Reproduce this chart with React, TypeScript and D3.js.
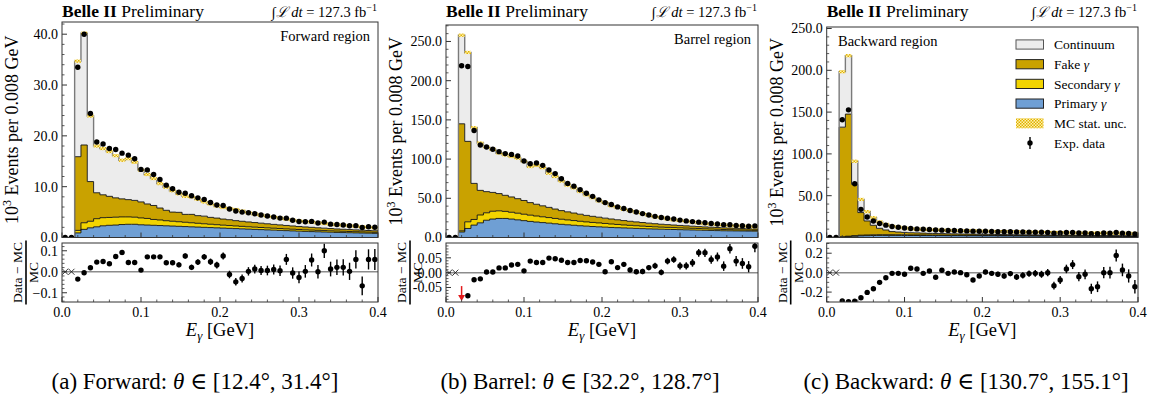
import React from "react";
import * as d3 from "d3";

// ---------- binning ----------
const BIN_WIDTH = 0.008;
const N_BINS = 50;
const X_MAX = 0.4;
const X_MAJOR = [0, 0.1, 0.2, 0.3, 0.4];
const X_TICK_LABELS = ["0.0", "0.1", "0.2", "0.3", "0.4"];

// ---------- Forward region (10^3 events / bin) ----------
const fwdPrimary = [0, 0, 0.9, 1.6, 1.9, 2.1, 2.3, 2.4, 2.45, 2.55, 2.6, 2.6, 2.5, 2.45, 2.4, 2.35, 2.3, 2.25, 2.2, 2.15, 2.1, 2.05, 2.0, 1.95, 1.9, 1.85, 1.8, 1.75, 1.7, 1.65, 1.6, 1.55, 1.5, 1.45, 1.4, 1.35, 1.3, 1.25, 1.2, 1.16, 1.12, 1.08, 1.04, 1.0, 0.97, 0.94, 0.91, 0.88, 0.85, 0.82];
const fwdSecondary = [0, 0, 0.5, 1.3, 1.3, 1.6, 1.6, 1.55, 1.55, 1.5, 1.45, 1.4, 1.35, 1.3, 1.15, 1.1, 1.0, 0.95, 0.9, 0.85, 0.8, 0.75, 0.7, 0.66, 0.62, 0.58, 0.55, 0.52, 0.49, 0.46, 0.44, 0.42, 0.4, 0.38, 0.36, 0.34, 0.33, 0.32, 0.31, 0.3, 0.29, 0.28, 0.27, 0.26, 0.25, 0.24, 0.23, 0.22, 0.21, 0.2];
const fwdFake = [0, 0, 14.5, 15.3, 7.8, 5.1, 4.5, 4.15, 3.8, 3.55, 3.4, 3.3, 3.15, 2.85, 2.75, 2.35, 2.05, 1.8, 1.85, 1.55, 1.65, 1.5, 1.5, 1.35, 1.3, 1.2, 1.15, 1.05, 1.0, 0.95, 0.9, 0.85, 0.8, 0.75, 0.72, 0.68, 0.64, 0.6, 0.57, 0.54, 0.5, 0.48, 0.45, 0.42, 0.4, 0.38, 0.36, 0.34, 0.32, 0.3];
const fwdContinuum = [0, 0, 18.8, 22.0, 12.9, 9.2, 9.1, 8.8, 8.3, 7.6, 8.05, 7.5, 6.3, 5.8, 5.3, 4.8, 4.55, 4.2, 3.65, 3.55, 3.45, 3.2, 2.8, 2.64, 2.38, 2.27, 2.2, 2.18, 2.01, 1.79, 1.66, 1.58, 1.5, 1.42, 1.32, 1.23, 1.13, 1.08, 1.02, 1.0, 0.94, 0.91, 0.84, 0.82, 0.78, 0.74, 0.7, 0.66, 0.62, 0.58];
const fwdData = [0, 0, 33.5, 40.0, 24.4, 18.8, 18.4, 17.5, 17.3, 16.6, 16.2, 15.5, 13.4, 13.3, 12.4, 11.4, 10.3, 9.6, 8.9, 8.7, 8.2, 7.8, 7.5, 6.9, 6.4, 6.3, 5.6, 5.2, 5.0, 4.86, 4.66, 4.43, 4.23, 4.04, 3.82, 3.81, 3.38, 3.16, 3.11, 3.17, 2.85, 3.03, 2.63, 2.55, 2.45, 2.3, 2.33, 1.96, 2.12, 2.01];
const fwdRatio = [null, null, -0.035, -0.005, 0.019, 0.046, 0.049, 0.038, 0.073, 0.092, 0.044, 0.044, 0.008, 0.071, 0.071, 0.071, 0.043, 0.043, 0.033, 0.075, 0.021, 0.046, 0.071, 0.048, 0.032, 0.075, -0.013, -0.048, -0.032, 0.002, 0.013, 0.006, 0.006, 0.011, 0.005, 0.059, -0.006, -0.027, 0.002, 0.056, 0.0, 0.1, 0.013, 0.021, 0.021, 0.002, 0.059, -0.067, 0.059, 0.059];
const fwdRatioErr = [0, 0, 0.004, 0.004, 0.005, 0.005, 0.006, 0.006, 0.006, 0.007, 0.007, 0.008, 0.008, 0.009, 0.009, 0.01, 0.01, 0.011, 0.012, 0.012, 0.013, 0.014, 0.014, 0.015, 0.016, 0.017, 0.018, 0.018, 0.019, 0.02, 0.021, 0.022, 0.023, 0.024, 0.025, 0.026, 0.027, 0.028, 0.03, 0.031, 0.032, 0.034, 0.035, 0.037, 0.039, 0.041, 0.043, 0.045, 0.048, 0.05];

// ---------- Barrel region ----------
const brlPrimary = [0, 0, 7, 11.5, 15.8, 18.7, 22, 23.5, 24.3, 24.3, 23.5, 22.5, 21.5, 20.5, 19.7, 19, 18.3, 17.5, 16.8, 16.2, 15.6, 15.0, 14.5, 14.0, 13.6, 13.2, 12.8, 12.5, 12.2, 11.9, 11.6, 11.3, 11.0, 10.8, 10.6, 10.4, 10.2, 10.0, 9.8, 9.6, 9.4, 9.2, 9.0, 8.8, 8.6, 8.5, 8.4, 8.3, 8.2, 8.1];
const brlSecondary = [0, 0, 1.5, 8.5, 7.2, 10, 9.5, 10, 9.7, 9.0, 8.7, 8.5, 8.2, 8.0, 7.7, 7.4, 7.1, 6.8, 6.5, 6.2, 6.0, 5.7, 5.4, 5.2, 5.0, 4.7, 4.4, 4.1, 3.8, 3.6, 3.4, 3.2, 3.0, 2.8, 2.6, 2.5, 2.4, 2.3, 2.2, 2.1, 2.0, 1.9, 1.8, 1.7, 1.6, 1.5, 1.4, 1.3, 1.2, 1.1];
const brlFake = [0, 0, 136.5, 102.6, 46, 31.4, 27, 24, 22, 20.5, 19.5, 18.5, 17.5, 16, 15, 14, 13, 12, 11, 10.3, 9.6, 9.0, 8.3, 7.8, 7.3, 6.8, 6.4, 6.0, 5.6, 5.2, 4.9, 4.6, 4.3, 4.0, 3.7, 3.5, 3.3, 3.1, 2.9, 2.7, 2.5, 2.4, 2.3, 2.2, 2.1, 2.0, 1.9, 1.8, 1.7, 1.6];
const brlContinuum = [0, 0, 113, 113.4, 71, 60.4, 56.8, 54.8, 51.8, 51.5, 51.6, 51.7, 49.7, 46, 49.5, 48.6, 43.6, 41.5, 37.7, 34, 32.1, 28.9, 26.1, 23.7, 20.8, 19.7, 16.9, 15.7, 14.4, 13.5, 12.5, 11.3, 9.9, 8.8, 8.6, 7.2, 6.6, 6.3, 5.8, 5.2, 4.5, 4.1, 4.0, 3.6, 3.7, 3.1, 3.1, 3.1, 3.0, 2.8];
const brlData = [0, 0, 219, 218, 136.5, 118, 115.5, 112.5, 109.5, 107, 106, 104, 97.5, 94, 95, 92, 86, 81.5, 75, 69, 65.5, 61, 56.5, 52.5, 48, 44.5, 42, 39, 37, 34.5, 32.5, 30.5, 28.7, 27, 25.5, 24.5, 23.5, 22.2, 21.2, 20.3, 19.6, 18.8, 17.8, 17.2, 16.4, 16.3, 15.4, 14.9, 14.4, 14.8];
const brlRatio = [null, null, -0.15, -0.078, -0.024, -0.021, 0.002, 0.002, 0.016, 0.016, 0.026, 0.028, 0.006, 0.039, 0.034, 0.034, 0.049, 0.047, 0.042, 0.034, 0.034, 0.041, 0.04, 0.036, 0.028, 0.003, 0.037, 0.017, 0.028, 0.009, 0.003, 0.004, 0.017, 0.023, 0.001, 0.039, 0.044, 0.023, 0.023, 0.033, 0.067, 0.067, 0.044, 0.053, 0.022, 0.081, 0.039, 0.031, 0.02, 0.089];
const brlRatioErr = [0, 0, 0.002, 0.002, 0.002, 0.002, 0.002, 0.002, 0.003, 0.003, 0.003, 0.003, 0.003, 0.003, 0.004, 0.004, 0.004, 0.004, 0.005, 0.005, 0.005, 0.005, 0.006, 0.006, 0.006, 0.007, 0.007, 0.007, 0.008, 0.008, 0.008, 0.009, 0.009, 0.01, 0.01, 0.011, 0.011, 0.012, 0.012, 0.013, 0.013, 0.014, 0.014, 0.015, 0.016, 0.016, 0.017, 0.018, 0.019, 0.02];

// ---------- Backward region ----------
const bwdPrimary = [0, 0, 0.5, 1.0, 1.5, 2.0, 2.2, 2.4, 2.5, 2.5, 2.5, 2.5, 2.45, 2.4, 2.4, 2.35, 2.3, 2.3, 2.25, 2.2, 2.2, 2.15, 2.1, 2.1, 2.05, 2.0, 2.0, 1.95, 1.9, 1.9, 1.85, 1.8, 1.8, 1.75, 1.7, 1.7, 1.65, 1.6, 1.6, 1.55, 1.5, 1.5, 1.45, 1.4, 1.4, 1.35, 1.3, 1.3, 1.25, 1.2];
const bwdSecondary = [0, 0, 0.3, 0.6, 0.7, 0.8, 0.8, 0.8, 0.8, 0.8, 0.8, 0.75, 0.75, 0.7, 0.7, 0.7, 0.65, 0.65, 0.6, 0.6, 0.6, 0.55, 0.55, 0.55, 0.5, 0.5, 0.5, 0.45, 0.45, 0.45, 0.4, 0.4, 0.4, 0.4, 0.35, 0.35, 0.35, 0.35, 0.3, 0.3, 0.3, 0.3, 0.3, 0.25, 0.25, 0.25, 0.25, 0.25, 0.2, 0.2];
const bwdFake = [0, 0, 131.2, 146, 61.3, 27, 16.8, 11.4, 7.7, 5.7, 3.8, 3.3, 2.9, 2.6, 2.4, 2.2, 2.0, 1.9, 1.8, 1.7, 1.6, 1.5, 1.45, 1.4, 1.35, 1.3, 1.25, 1.2, 1.15, 1.1, 1.05, 1.0, 0.97, 0.94, 0.91, 0.88, 0.85, 0.82, 0.8, 0.78, 0.76, 0.74, 0.72, 0.7, 0.68, 0.66, 0.64, 0.62, 0.6, 0.58];
const bwdContinuum = [0, 0, 66.3, 69.9, 27.7, 15.7, 11.1, 9.1, 7.7, 6.6, 6.2, 5.75, 5.4, 4.6, 4.4, 4.65, 4.35, 4.65, 3.95, 4.1, 3.8, 3.9, 4.0, 4.15, 3.9, 3.55, 3.5, 3.5, 3.65, 3.45, 3.6, 3.5, 3.28, 3.26, 3.34, 3.17, 3.15, 3.18, 3.1, 3.02, 2.94, 2.91, 2.93, 3.05, 2.97, 2.94, 2.91, 2.83, 2.85, 2.82];
const bwdData = [0, 0, 140.8, 152.7, 64.3, 33.7, 24.6, 19.8, 16.8, 14.8, 13.2, 12.2, 11.3, 10.8, 10.3, 9.8, 9.5, 9.0, 8.8, 8.5, 8.3, 8.1, 7.9, 7.6, 7.5, 7.4, 7.2, 7.0, 6.9, 6.8, 6.6, 6.5, 6.4, 6.3, 6.2, 6.1, 5.2, 5.5, 6.0, 6.1, 5.3, 5.35, 4.5, 4.6, 5.3, 5.2, 6.0, 5.15, 4.75, 4.1];
const bwdRatio = [null, null, -0.29, -0.298, -0.295, -0.259, -0.203, -0.166, -0.1, -0.052, -0.007, -0.007, -0.017, 0.045, 0.038, -0.007, 0.017, -0.048, 0.024, -0.007, 0.007, 0.0, -0.021, -0.076, -0.034, 0.007, -0.007, -0.017, -0.034, -0.01, -0.045, -0.028, -0.01, -0.007, -0.017, 0.0, -0.134, -0.076, 0.038, 0.083, -0.041, -0.017, -0.166, -0.145, 0.0, 0.0, 0.176, 0.028, -0.034, -0.145];
const bwdRatioErr = [0, 0, 0.003, 0.003, 0.004, 0.005, 0.006, 0.006, 0.007, 0.008, 0.008, 0.009, 0.01, 0.011, 0.012, 0.013, 0.014, 0.015, 0.016, 0.017, 0.018, 0.019, 0.02, 0.021, 0.022, 0.023, 0.024, 0.026, 0.027, 0.028, 0.03, 0.031, 0.033, 0.034, 0.036, 0.038, 0.04, 0.042, 0.044, 0.046, 0.048, 0.05, 0.052, 0.055, 0.058, 0.06, 0.062, 0.065, 0.068, 0.07];

// ---------- legend ----------
const LEGEND_LABELS = ["Continuum", "Fake γ", "Secondary γ", "Primary γ", "MC stat. unc.", "Exp. data"];

const KEYS = ["primary", "secondary", "fake", "continuum"];
const COLORS: Record<string, string> = {
  continuum: "#ececec",
  fake: "#c9a200",
  secondary: "#f2d400",
  primary: "#6f9fd4",
};

const FONT = "'Liberation Serif', 'Times New Roman', 'DejaVu Serif', serif";
const MAIN_BOTTOM = 237.5;
const R_TOP = 243;
const R_BOTTOM = 302;
const EDGES = d3.range(N_BINS + 1).map((i) => i * BIN_WIDTH);
const CENTERS = d3.range(N_BINS).map((i) => (i + 0.5) * BIN_WIDTH);

const PANELS = [
  {
    id: "fwd", left: 62, right: 378, top: 22, yMax: 42.4, yMajor: 10, yMinor: 2,
    rDomain: [-0.144, 0.137], rMajor: [-0.1, 0, 0.1], rLabels: ["−0.1", "0.0", "0.1"], rMinor: 0.02,
    region: "Forward region", regionX: 370, regionY: 41, regionAnchor: "end",
    capPrefix: "(a) Forward: ", capRange: " ∈ [12.4°, 31.4°]", capX: 195,
    primary: fwdPrimary, secondary: fwdSecondary, fake: fwdFake, continuum: fwdContinuum,
    data: fwdData, ratio: fwdRatio, ratioErr: fwdRatioErr, legend: false,
  },
  {
    id: "brl", left: 446, right: 758, top: 25, yMax: 271, yMajor: 50, yMinor: 10,
    rDomain: [-0.099, 0.1], rMajor: [-0.05, 0, 0.05], rLabels: ["-0.05", "0.00", "0.05"], rMinor: 0.01,
    region: "Barrel region", regionX: 751, regionY: 44, regionAnchor: "end",
    capPrefix: "(b) Barrel: ", capRange: " ∈ [32.2°, 128.7°]", capX: 580,
    primary: brlPrimary, secondary: brlSecondary, fake: brlFake, continuum: brlContinuum,
    data: brlData, ratio: brlRatio, ratioErr: brlRatioErr, legend: false,
  },
  {
    id: "bwd", left: 826.7, right: 1138, top: 27, yMax: 251.8, yMajor: 50, yMinor: 10,
    rDomain: [-0.302, 0.305], rMajor: [-0.2, 0, 0.2], rLabels: ["-0.2", "0.0", "0.2"], rMinor: 0.05,
    region: "Backward region", regionX: 838, regionY: 46, regionAnchor: "start",
    capPrefix: "(c) Backward: ", capRange: " ∈ [130.7°, 155.1°]", capX: 966,
    primary: bwdPrimary, secondary: bwdSecondary, fake: bwdFake, continuum: bwdContinuum,
    data: bwdData, ratio: bwdRatio, ratioErr: bwdRatioErr, legend: true,
  },
];

function Panel({ p }: { p: any }) {
  const x = d3.scaleLinear().domain([0, X_MAX]).range([p.left, p.right]);
  const y = d3.scaleLinear().domain([0, p.yMax]).range([MAIN_BOTTOM, p.top]);
  const yr = d3.scaleLinear().domain(p.rDomain).range([R_BOTTOM, R_TOP]);

  const rows = d3.range(N_BINS).map((i) => ({
    primary: p.primary[i], secondary: p.secondary[i], fake: p.fake[i], continuum: p.continuum[i],
  }));
  const stacked = d3.stack<any>().keys(KEYS)(rows);
  const stepPts = (s: any) =>
    s.flatMap((d: any, i: number) => [
      { x: EDGES[i], lo: d[0], hi: d[1] },
      { x: EDGES[i + 1], lo: d[0], hi: d[1] },
    ]);
  const area = d3.area<any>().x((d) => x(d.x)).y0((d) => y(d.lo)).y1((d) => y(d.hi));
  const line = d3.line<any>().x((d) => x(d.x)).y((d) => y(d.hi));
  const total = stacked[stacked.length - 1].map((d: any) => d[1]);

  const yMajorTicks = d3.range(0, p.yMax + 1e-9, p.yMajor);
  const yMinorTicks = d3.range(0, p.yMax, p.yMinor).filter((v) => Math.abs(v / p.yMajor - Math.round(v / p.yMajor)) > 1e-6);
  const xMinorTicks = d3.range(0, X_MAX + 1e-9, 0.02).filter((v) => Math.abs(v * 10 - Math.round(v * 10)) > 1e-6);
  const rMinorTicks = d3.range(Math.ceil(p.rDomain[0] / p.rMinor) * p.rMinor, p.rDomain[1], p.rMinor)
    .filter((v) => !p.rMajor.some((m: number) => Math.abs(m - v) < 1e-6));

  const cx = (p.left + p.right) / 2;
  const mainCy = (p.top + MAIN_BOTTOM) / 2;
  const rCy = (R_TOP + R_BOTTOM) / 2;
  const tc = "#333";

  return (
    <g fontFamily={FONT}>
      <defs>
        <clipPath id={`clipM-${p.id}`}>
          <rect x={p.left} y={p.top} width={p.right - p.left} height={MAIN_BOTTOM - p.top} />
        </clipPath>
        <clipPath id={`clipR-${p.id}`}>
          <rect x={p.left} y={R_TOP} width={p.right - p.left} height={R_BOTTOM - R_TOP} />
        </clipPath>
      </defs>

      {/* header */}
      <text x={p.left} y={17} fontSize={17.5}>
        <tspan fontWeight="bold">Belle II</tspan> Preliminary
      </text>
      <text x={p.right - 1} y={17} fontSize={14.5} textAnchor="end">
        <tspan fontStyle="italic">∫ℒ dt</tspan> = 127.3 fb<tspan dy={-6} fontSize={10}>−1</tspan>
      </text>

      {/* main panel */}
      <g clipPath={`url(#clipM-${p.id})`}>
        {stacked.map((s: any) => (
          <path key={s.key} d={area(stepPts(s)) || ""} fill={COLORS[s.key]} stroke="none" />
        ))}
        {stacked.map((s: any) => (
          <path key={s.key + "l"} d={line(stepPts(s)) || ""} fill="none"
            stroke={s.key === "continuum" ? "#7a7a7a" : "#111"} strokeWidth={s.key === "continuum" ? 1.4 : 0.9} />
        ))}
        {total.map((t: number, i: number) =>
          t > 0 ? (
            <rect key={"u" + i} x={x(EDGES[i])} y={y(t) - 1.6} width={x(EDGES[i + 1]) - x(EDGES[i])} height={3.2} fill="url(#uncPattern)" />
          ) : null
        )}
        {p.data.map((v: number, i: number) => (
          <circle key={"d" + i} cx={x(CENTERS[i])} cy={y(v)} r={2.7} fill="#000" />
        ))}
      </g>
      <rect x={p.left} y={p.top} width={p.right - p.left} height={MAIN_BOTTOM - p.top} fill="none" stroke={tc} strokeWidth={1} />
      {yMajorTicks.map((v) => (
        <g key={"ym" + v}>
          <line x1={p.left} x2={p.left + 5} y1={y(v)} y2={y(v)} stroke={tc} />
          <text x={p.left - 4} y={y(v)} dy="0.35em" textAnchor="end" fontSize={14}>{d3.format(".1f")(v)}</text>
        </g>
      ))}
      {yMinorTicks.map((v) => (
        <line key={"yn" + v} x1={p.left} x2={p.left + 2.5} y1={y(v)} y2={y(v)} stroke={tc} strokeWidth={0.8} />
      ))}
      {X_MAJOR.map((v) => (
        <line key={"xm" + v} x1={x(v)} x2={x(v)} y1={MAIN_BOTTOM} y2={MAIN_BOTTOM - 5} stroke={tc} />
      ))}
      {xMinorTicks.map((v) => (
        <line key={"xn" + v} x1={x(v)} x2={x(v)} y1={MAIN_BOTTOM} y2={MAIN_BOTTOM - 2.5} stroke={tc} strokeWidth={0.8} />
      ))}
      <text transform={`translate(${p.left - 44},${mainCy}) rotate(-90)`} textAnchor="middle" fontSize={18}>
        10<tspan dy={-7} fontSize={12}>3</tspan><tspan dy={7}> Events per 0.008 GeV</tspan>
      </text>
      <text x={p.regionX} y={p.regionY} textAnchor={p.regionAnchor} fontSize={14.5}>{p.region}</text>

      {/* ratio panel */}
      <g clipPath={`url(#clipR-${p.id})`}>
        <line x1={p.left} x2={p.right} y1={yr(0)} y2={yr(0)} stroke="#8c8c8c" strokeWidth={1.5} />
        {p.ratio.map((r: number | null, i: number) => {
          const px = x(CENTERS[i]);
          if (r === null) {
            return (
              <g key={"r" + i} stroke="#222" strokeWidth={0.9}>
                <line x1={px - 3} x2={px + 3} y1={yr(0) - 3} y2={yr(0) + 3} />
                <line x1={px - 3} x2={px + 3} y1={yr(0) + 3} y2={yr(0) - 3} />
              </g>
            );
          }
          if (r < p.rDomain[0]) {
            const y1 = yr(p.rDomain[0] + (p.rDomain[1] - p.rDomain[0]) * 0.27);
            const y2 = yr(p.rDomain[0]) - 1;
            return (
              <g key={"r" + i}>
                <line x1={px} x2={px} y1={y1} y2={y2 - 4} stroke="#e31a1c" strokeWidth={1.5} />
                <path d={`M${px - 3.5},${y2 - 6} L${px + 3.5},${y2 - 6} L${px},${y2} Z`} fill="#e31a1c" />
              </g>
            );
          }
          return (
            <g key={"r" + i}>
              <line x1={px} x2={px} y1={yr(r - p.ratioErr[i])} y2={yr(r + p.ratioErr[i])} stroke="#000" strokeWidth={1.4} />
              <circle cx={px} cy={yr(r)} r={2.7} fill="#000" />
            </g>
          );
        })}
      </g>
      <rect x={p.left} y={R_TOP} width={p.right - p.left} height={R_BOTTOM - R_TOP} fill="none" stroke={tc} strokeWidth={1} />
      {p.rMajor.map((v: number, j: number) => (
        <g key={"rm" + v}>
          <line x1={p.left} x2={p.left + 5} y1={yr(v)} y2={yr(v)} stroke={tc} />
          <text x={p.left - 4} y={yr(v)} dy="0.35em" textAnchor="end" fontSize={14}>{p.rLabels[j]}</text>
        </g>
      ))}
      {rMinorTicks.map((v: number) => (
        <line key={"rn" + v} x1={p.left} x2={p.left + 2.5} y1={yr(v)} y2={yr(v)} stroke={tc} strokeWidth={0.8} />
      ))}
      {X_MAJOR.map((v, j) => (
        <g key={"rx" + v}>
          <line x1={x(v)} x2={x(v)} y1={R_BOTTOM} y2={R_BOTTOM - 5} stroke={tc} />
          <text x={x(v)} y={317} textAnchor="middle" fontSize={14}>{X_TICK_LABELS[j]}</text>
        </g>
      ))}
      {xMinorTicks.map((v) => (
        <line key={"rxn" + v} x1={x(v)} x2={x(v)} y1={R_BOTTOM} y2={R_BOTTOM - 2.5} stroke={tc} strokeWidth={0.8} />
      ))}
      {/* ratio y label: (Data - MC)/MC */}
      <text transform={`translate(${p.left - 40},${rCy}) rotate(-90)`} textAnchor="middle" fontSize={13.5}>Data − MC</text>
      <line x1={p.left - 36} x2={p.left - 36} y1={rCy - 32} y2={rCy + 32} stroke="#000" strokeWidth={1.6} />
      <text transform={`translate(${p.left - 24},${rCy}) rotate(-90)`} textAnchor="middle" fontSize={13.5}>MC</text>

      {/* x label */}
      <text x={cx} y={336} textAnchor="middle" fontSize={18.5}>
        <tspan fontStyle="italic">E</tspan><tspan fontStyle="italic" fontSize={13} dy={4}>γ</tspan><tspan dy={-4}> [GeV]</tspan>
      </text>

      {/* caption */}
      <text x={p.capX} y={389} textAnchor="middle" fontSize={23}>
        {p.capPrefix}<tspan fontStyle="italic">θ</tspan>{p.capRange}
      </text>

      {p.legend ? <Legend /> : null}
    </g>
  );
}

function Legend() {
  const sx = 1016, tx = 1054, y0 = 44.5, dy = 19.7;
  const fills = [COLORS.continuum, COLORS.fake, COLORS.secondary, COLORS.primary];
  return (
    <g fontFamily={FONT} fontSize={13.5}>
      {LEGEND_LABELS.map((lab, i) => {
        const cy = y0 + i * dy;
        let sw: any = null;
        if (i < 4) {
          sw = <rect x={sx} y={cy - 4.6} width={27.5} height={9.2} fill={fills[i]} stroke={i === 0 ? "#555" : "#222"} strokeWidth={1} />;
        } else if (i === 4) {
          sw = <rect x={sx} y={cy - 5} width={27.5} height={10} fill="url(#uncPattern)" />;
        } else {
          sw = (
            <g>
              <line x1={sx + 14} x2={sx + 14} y1={cy - 6} y2={cy + 6} stroke="#000" strokeWidth={1.4} />
              <circle cx={sx + 14} cy={cy} r={2.7} fill="#000" />
            </g>
          );
        }
        const parts = lab.split("γ");
        return (
          <g key={lab}>
            {sw}
            <text x={tx} y={cy} dy="0.35em">
              {parts[0]}
              {parts.length > 1 ? <tspan fontStyle="italic">γ</tspan> : null}
            </text>
          </g>
        );
      })}
    </g>
  );
}

export default function App() {
  return (
    <svg width={1160} height={398} viewBox="0 0 1160 398"
      style={{ position: "absolute", left: 0, top: 0, background: "#fff" }}>
      <defs>
        <pattern id="uncPattern" width={3} height={3} patternUnits="userSpaceOnUse">
          <rect width={3} height={3} fill="#fff3b0" />
          <rect width={1.5} height={1.5} fill="#e0b000" />
          <rect x={1.5} y={1.5} width={1.5} height={1.5} fill="#e0b000" />
        </pattern>
      </defs>
      <rect width={1160} height={398} fill="#fff" />
      {PANELS.map((p) => (
        <Panel key={p.id} p={p} />
      ))}
    </svg>
  );
}
